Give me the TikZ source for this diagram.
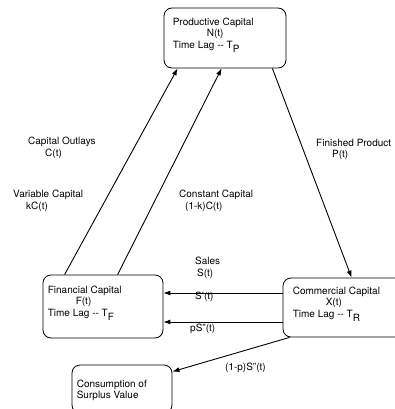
\documentclass[tikz,border=0pt]{standalone}
\usepackage{fontspec}
\setmainfont{TeX Gyre Heros}
\usetikzlibrary{arrows.meta}

\tikzset{
  capbox/.style={shape=rectangle, rounded corners=8pt, draw, line width=0.8pt, inner sep=0pt},
  boxtext/.style={anchor=north west, align=left, inner sep=0pt, font=\fontsize{10}{11.5}\selectfont},
  flowlabel/.style={anchor=north west, align=left, inner sep=0pt, font=\fontsize{10}{11.5}\selectfont},
  flow/.style={-{Latex[length=7pt,width=5pt]}, line width=0.9pt}
}
\newcommand{\lagsub}[1]{T\raisebox{-4pt}{#1}}

\begin{document}
\begin{tikzpicture}[x=1pt,y=-1pt]
\useasboundingbox (0,0) rectangle (394,409);

% boxes
\path (225,38) node (prod) [capbox, minimum width=122pt, minimum height=60pt] {};
\path (103,306.5) node (fin) [capbox, minimum width=120pt, minimum height=63pt] {};
\path (345.5,307.5) node (comm) [capbox, minimum width=125pt, minimum height=59pt] {};
\path (122,389) node (cons) [capbox, minimum width=100pt, minimum height=48pt] {};

\path ([xshift=9pt,yshift=-10pt]prod.north west) node (prodtxt) [boxtext]
  {Productive Capital\\ \hspace{34pt}N(t)\\ Time Lag -{}- \lagsub{P}};
\path ([xshift=5pt,yshift=-11pt]fin.north west) node (fintxt) [boxtext]
  {Financial Capital\\ \hspace{28pt}F(t)\\ Time Lag -{}- \lagsub{F}};
\path ([xshift=10pt,yshift=-9pt]comm.north west) node (commtxt) [boxtext]
  {Commercial Capital\\ \hspace{33pt}X(t)\\ Time Lag -{}- \lagsub{R}};
\path ([xshift=5pt,yshift=-15pt]cons.north west) node (constxt) [boxtext]
  {Consumption of\\ Surplus Value};

% connectors
\draw [flow] ([xshift=22pt]fin.north west) to ([xshift=14pt]prod.south west);
\draw [flow] ([xshift=75pt]fin.north west) to ([xshift=58pt]prod.south west);
\draw [flow] ([xshift=-14pt]prod.south east) to ([xshift=69pt]comm.north west);
\draw [flow] ([yshift=14.5pt]comm.west) to ([yshift=14.5pt]comm.west -| fin.east);
\draw [flow] ([yshift=-14.5pt]comm.west) to ([yshift=-14.5pt]comm.west -| fin.east);
\draw [flow] ([xshift=7pt]comm.south west) to ([yshift=-7pt]cons.north east);

% labels
\path (28,137) node (outlays) [flowlabel] {Capital Outlays\\ \hspace{17pt}C(t)};
\path (13,190) node (variable) [flowlabel] {Variable Capital\\ \hspace{13pt}kC(t)};
\path (179,190) node (constant) [flowlabel] {Constant Capital\\ \hspace{6pt}(1-k)C(t)};
\path (316,139) node (finished) [flowlabel] {Finished Product\\ \hspace{16pt}P(t)};
\path (195,257) node (sales) [flowlabel] {Sales\\ \hspace{2pt}S(t)};
\path (195,292) node (salesa) [flowlabel] {S'(t)};
\path (190,324) node (salesb) [flowlabel] {pS"(t)};
\path (225,363) node (salesc) [flowlabel] {(1-p)S"(t)};

\end{tikzpicture}
\end{document}
